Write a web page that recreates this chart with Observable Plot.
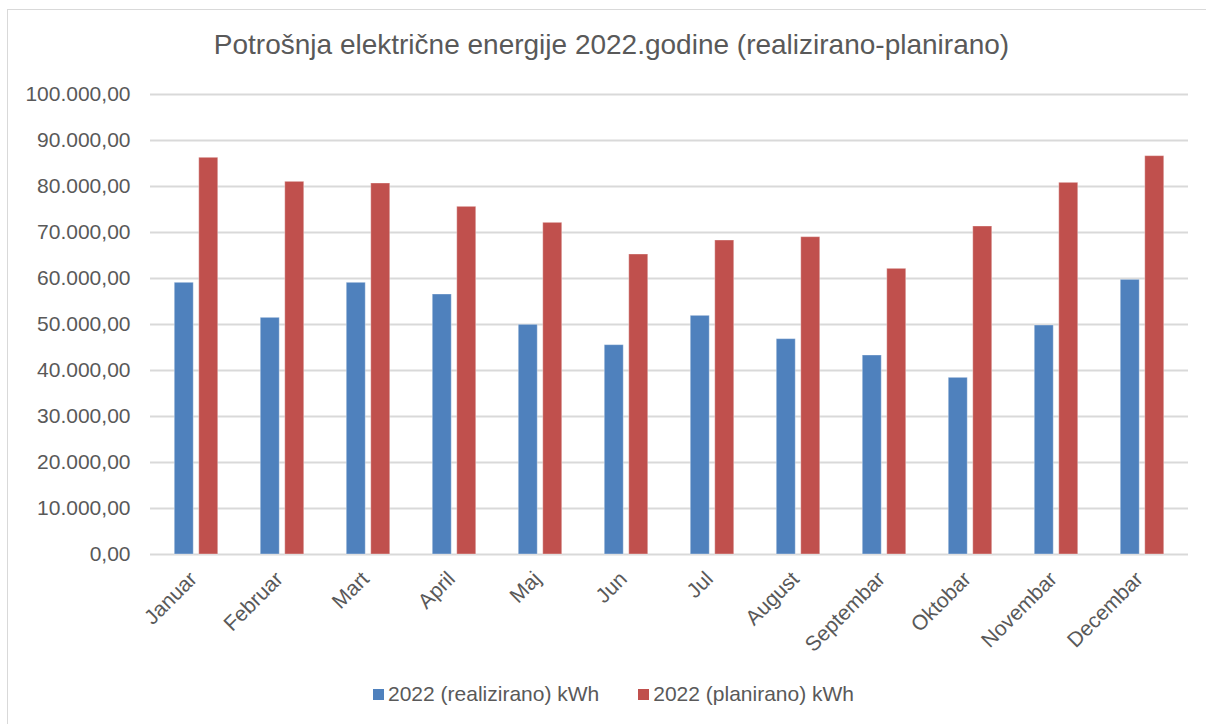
<!DOCTYPE html>
<html>
<head>
<meta charset="utf-8">
<script src="https://cdn.jsdelivr.net/npm/d3@7"></script>
<script src="https://cdn.jsdelivr.net/npm/@observablehq/plot@0.6"></script>
<style>
  html, body { margin: 0; padding: 0; background: #fff; }
  #wrap { position: relative; width: 1206px; height: 724px; overflow: hidden; font-family: "Liberation Sans", Arial, sans-serif; color: #595959; }
  #frame { position: absolute; left: 7px; top: 9px; width: 1210px; height: 730px; border-top: 1px solid #d9d9d9; border-left: 1px solid #d9d9d9; box-sizing: border-box; }
  #title { position: absolute; left: 0; width: 1223px; top: 31px; text-align: center; font-size: 28px; line-height: 28px; white-space: nowrap; }
  #chart { position: absolute; left: 0; top: 70px; }
  #legend { position: absolute; left: 373px; top: 681px; font-size: 21px; line-height: 26px; display: flex; white-space: nowrap; }
  .item { display: flex; align-items: center; margin-right: 39px; }
  .sw { width: 11px; height: 11px; margin-right: 4px; }
</style>
</head>
<body>
<div id="wrap">
  <div id="frame"></div>
  <div id="title"></div>
  <div id="chart"></div>
  <div id="legend"></div>
</div>
<script>
const titleText = "Potrošnja električne energije 2022.godine (realizirano-planirano)";
const months = ["Januar","Februar","Mart","April","Maj","Jun","Jul","August","Septembar","Oktobar","Novembar","Decembar"];
const seriesNames = ["2022 (realizirano) kWh", "2022 (planirano) kWh"];
const realizirano = [59065, 51449, 59065, 56522, 49928, 45507, 51884, 46812, 43261, 38406, 49783, 59710];
const planirano = [86239, 81014, 80652, 75580, 72101, 65217, 68261, 68985, 62101, 71304, 80797, 86594];
const yTicks = [0, 10000, 20000, 30000, 40000, 50000, 60000, 70000, 80000, 90000, 100000];
const colors = ["#4F81BD", "#C0504D"];

const locale = d3.formatLocale({decimal: ",", thousands: ".", grouping: [3], currency: ["", ""]});
const fmt = locale.format(",.2f");

const dataR = months.map((m, i) => ({month: m, value: realizirano[i]}));
const dataP = months.map((m, i) => ({month: m, value: planirano[i]}));

document.getElementById("title").textContent = titleText;

const chart = Plot.plot({
  width: 1206,
  height: 590,
  marginTop: 24,
  marginBottom: 106,
  marginLeft: 150,
  marginRight: 18,
  style: {fontFamily: "'Liberation Sans', Arial, sans-serif", fontSize: "21px", color: "#595959", background: "transparent"},
  x: {domain: months, padding: 0, label: null},
  y: {domain: [0, 100000], label: null},
  marks: [
    Plot.gridY(yTicks, {stroke: "#d9d9d9", strokeOpacity: 1, strokeWidth: 2}),
    Plot.barY(dataR, {x: "month", y: "value", fill: colors[0], insetLeft: 21.25, insetRight: 45.75, stroke: "#ffffff", strokeOpacity: 0.35, strokeWidth: 1}),
    Plot.barY(dataP, {x: "month", y: "value", fill: colors[1], insetLeft: 45.75, insetRight: 21.25, stroke: "#ffffff", strokeOpacity: 0.35, strokeWidth: 1}),
    Plot.axisY(yTicks, {tickSize: 0, tickPadding: 20, tickFormat: fmt, fill: "#595959", fontSize: 21, label: null}),
    Plot.axisX({tickSize: 0, tickPadding: 21, tickRotate: -45, fill: "#595959", fontSize: 21, label: null, dx: -3})
  ]
});
document.getElementById("chart").appendChild(chart);

const legend = document.getElementById("legend");
seriesNames.forEach((name, i) => {
  const item = document.createElement("div");
  item.className = "item";
  const sw = document.createElement("span");
  sw.className = "sw";
  sw.style.background = colors[i];
  const t = document.createElement("span");
  t.textContent = name;
  item.appendChild(sw);
  item.appendChild(t);
  legend.appendChild(item);
});
</script>
</body>
</html>
